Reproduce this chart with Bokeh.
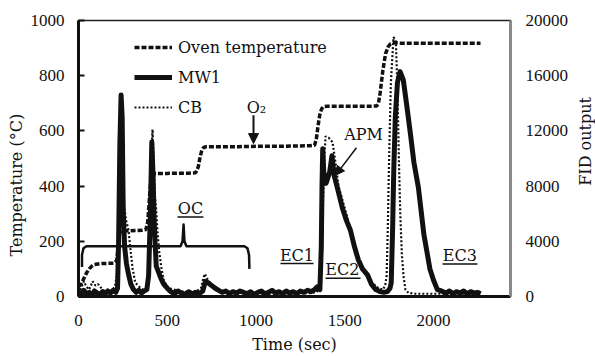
import numpy as np
from bokeh.plotting import figure
from bokeh.layouts import row
from bokeh.models import (Range1d, LinearAxis, FixedTicker, Label, Arrow, NormalHead,
                          Legend, LegendItem, ColumnDataSource, Title)
from bokeh.embed import file_html
from bokeh.resources import INLINE

# ---------------- data ----------------
X_TICKS = [0, 500, 1000, 1500, 2000]
TEMP_TICKS = [0, 200, 400, 600, 800, 1000]
FID_TICKS = [0, 4000, 8000, 12000, 16000, 20000]

# Oven temperature (deg C), left axis
OVEN_T = [0, 15, 30, 45, 60, 75, 90, 120, 160, 200, 215, 222, 228, 235, 245, 280, 320, 360, 380, 390,
          398, 406, 414, 422, 440, 500, 560, 620, 660, 675, 685, 695, 705, 720, 800, 900, 1000, 1100,
          1200, 1300, 1330, 1340, 1350, 1360, 1370, 1380, 1400, 1500, 1600, 1680, 1690, 1700, 1715,
          1730, 1745, 1758, 1775, 1800, 1900, 2000, 2100, 2200, 2265]
OVEN_V = [35, 45, 65, 85, 100, 110, 116, 119, 120, 121, 130, 170, 215, 235, 238, 238, 239, 240, 243, 270,
          340, 410, 440, 446, 446, 446, 447, 447, 448, 470, 505, 530, 540, 543, 543, 543, 544, 544,
          545, 546, 548, 570, 620, 660, 680, 688, 689, 689, 689, 690, 700, 740, 820,
          880, 905, 915, 920, 918, 918, 918, 918, 918, 918]

# MW1 FID output, right axis
MW1_T = [0, 15, 30, 45, 60, 75, 90, 105, 120, 135, 150, 165, 180, 195, 210, 220, 226, 233, 240, 246,
         252, 260, 270, 282, 295, 310, 325, 340, 355, 370, 385, 395, 405, 413, 420, 425, 430, 438, 450,
         465, 480, 500, 520, 540, 560, 580, 600, 620, 640, 660, 680, 700, 715, 730, 750, 770, 790, 810,
         830, 850, 870, 890, 910, 930, 950, 970, 990, 1010, 1030, 1050, 1070, 1090, 1110, 1130, 1150,
         1170, 1190, 1210, 1230, 1250, 1270, 1290, 1310, 1330, 1345, 1360, 1368, 1372, 1376, 1382,
         1395, 1415, 1428, 1440, 1460, 1487, 1510, 1532, 1555, 1577, 1600, 1628, 1650, 1675, 1700,
         1720, 1740, 1755, 1762, 1770, 1776, 1785, 1797, 1812, 1830, 1850, 1870, 1890, 1915, 1946,
         1980, 2000, 2022, 2045, 2070, 2090, 2110, 2130, 2150, 2170, 2190, 2210, 2230, 2250, 2265]
MW1_V = [350, 150, 450, 200, 300, 100, 400, 250, 150, 350, 200, 400, 250, 450, 300, 600, 4000, 11000,
         14600, 13000, 6200, 3600, 2400, 1600, 900, 500, 300, 450, 250, 400, 500, 1500, 6000, 11200,
         8800, 6000, 4300, 2200, 1800, 1300, 900, 600, 350, 200, 400, 250, 150, 350, 200, 300, 200, 400,
         1100, 1000, 800, 600, 450, 300, 400, 200, 350, 250, 400, 300, 200, 350, 150, 300, 400, 200,
         300, 450, 250, 350, 200, 400, 250, 350, 200, 400, 300, 450, 350, 500, 700, 500, 3600, 8000,
         10700, 9000, 8200, 9000, 10200, 8800, 7800, 6400, 5500, 4800, 3600, 2640, 2000, 1570, 900,
         500, 350, 300, 350, 600, 1000, 5000, 9000, 13000, 15500, 16300, 15700, 13800, 11800, 9700,
         7900, 4500, 2000, 1200, 500, 400, 250, 400, 200, 350, 250, 400, 200, 350, 250, 300, 200]

# CB FID output, right axis
CB_T = [0, 15, 30, 45, 60, 80, 95, 110, 135, 160, 185, 205, 218, 228, 237, 245, 255, 268, 282, 292,
        305, 320, 350, 375, 390, 398, 405, 411, 417, 423, 430, 437, 445, 455, 468, 480, 500, 518, 550,
        585, 620, 660, 690, 703, 712, 725, 745, 770, 800, 840, 873, 910, 950, 1000, 1100, 1200, 1300,
        1340, 1360, 1368, 1374, 1378, 1385, 1392, 1410, 1431, 1450, 1465, 1487, 1515, 1543, 1572,
        1600, 1645, 1690, 1715, 1728, 1736, 1742, 1750, 1760, 1775, 1788, 1797, 1805, 1813, 1822,
        1832, 1842, 1860, 1900, 2000, 2100, 2200, 2265]
CB_V = [200, 600, 1100, 700, 500, 1100, 800, 900, 500, 300, 400, 700, 1700, 4000, 7400, 8200, 6800,
        5500, 4800, 3500, 2000, 1000, 600, 400, 800, 3000, 7000, 10500, 12100, 10000, 7400, 6400, 4700,
        3200, 2000, 1200, 700, 570, 450, 360, 300, 350, 600, 1300, 1640, 1300, 900, 600, 400, 300, 350,
        250, 300, 200, 200, 250, 250, 300, 600, 1700, 4000, 7000, 10000, 11600, 11500, 11200, 9500,
        8000, 7000, 5700, 4100, 3100, 2100, 1100, 600, 500, 800, 1500, 4500, 10000, 15500, 18800,
        18500, 15000, 10000, 6000, 3000, 1400, 500, 250, 200, 200, 200, 200, 200]

SERIES_NAMES = ["Oven temperature", "MW1", "CB"]

# ---------------- annotations ----------------
BRACE_X = [19.7, 19.7, 28, 45, 575, 586, 592, 597, 608, 935, 952, 961, 963]
BRACE_Y = [107, 150, 175, 182, 182, 200, 261, 200, 182, 182, 175, 150, 100]

TEXT_LABELS = [  # text, x (sec), y (deg C)
    ("OC", 631, 319),
    ("EC1", 1231, 150),
    ("EC2", 1487, 97),
    ("EC3", 2149, 147),
    ("O\u2082", 1003, 684),
    ("APM", 1606, 587),
]
UNDERLINES = dict(x0=[558, 1138, 1392, 2051], x1=[704, 1324, 1589, 2248],
                  y=[288, 120, 66, 118])

FONT = "DejaVu Serif"
NUMFONT = "Liberation Serif"
INK = "#111111"

p = figure(width=575, height=356, output_backend="svg", toolbar_location=None,
           x_range=Range1d(0, 2434), y_range=Range1d(0, 1000),
           min_border_left=78, min_border_right=65, min_border_top=20, min_border_bottom=56)
p.extra_y_ranges = {"fid": Range1d(0, 20000)}
p.xgrid.visible = False
p.ygrid.visible = False
p.outline_line_color = "#222222"
p.outline_line_width = 1.5
p.background_fill_color = "white"
p.border_fill_color = "white"

# x axis
xa = p.xaxis[0]
xa.ticker = FixedTicker(ticks=X_TICKS)
xa.major_tick_line_color = None
xa.minor_tick_line_color = None
xa.axis_line_width = 3
xa.axis_line_color = INK
xa.major_label_text_font = NUMFONT
xa.major_label_text_font_size = "17px"
xa.major_label_text_color = INK
xa.major_label_standoff = 12
xa.axis_label = "Time (sec)"
xa.axis_label_text_font = FONT
xa.axis_label_text_font_size = "16px"
xa.axis_label_text_font_style = "normal"
xa.axis_label_text_color = INK
xa.axis_label_standoff = 6

# left axis
ya = p.yaxis[0]
ya.ticker = FixedTicker(ticks=TEMP_TICKS)
ya.major_tick_in = 6
ya.major_tick_out = 0
ya.major_tick_line_width = 2
ya.major_tick_line_color = INK
ya.minor_tick_line_color = None
ya.axis_line_width = 3
ya.axis_line_color = INK
ya.major_label_text_font = NUMFONT
ya.major_label_text_font_size = "17px"
ya.major_label_text_color = INK
ya.major_label_standoff = 14

# right axis
ra = LinearAxis(y_range_name="fid", ticker=FixedTicker(ticks=FID_TICKS))
ra.major_tick_line_color = None
ra.minor_tick_line_color = None
ra.axis_line_color = "#8a8a8a"
ra.axis_line_width = 3
ra.major_label_text_font = NUMFONT
ra.major_label_text_font_size = "17px"
ra.major_label_text_color = INK
ra.major_label_standoff = 9
p.add_layout(ra, "right")

# left axis title (placed as a side title so it can be offset along the axis)
p.add_layout(Title(text="Temperature (\u00b0C)", align="left", offset=40,
                   text_font=FONT, text_font_size="16px", text_font_style="normal",
                   text_color=INK, standoff=4), "left")

# series
r_oven = p.line(OVEN_T, OVEN_V, line_width=3.5, line_dash="5 2", color=INK)
r_mw1 = p.line(MW1_T, MW1_V, y_range_name="fid", line_width=5, color=INK, line_join="round")
r_cb = p.line(CB_T, CB_V, y_range_name="fid", line_width=2.2, line_dash="2 2", color=INK)

legend = Legend(items=[LegendItem(label=SERIES_NAMES[0], renderers=[r_oven]),
                       LegendItem(label=SERIES_NAMES[1], renderers=[r_mw1]),
                       LegendItem(label=SERIES_NAMES[2], renderers=[r_cb])],
                location=(56, 179), glyph_width=38, glyph_height=20, label_height=20,
                spacing=10, label_standoff=6, padding=0, margin=0,
                border_line_color=None, background_fill_alpha=0,
                label_text_font=FONT, label_text_font_size="16px", label_text_color=INK)
p.add_layout(legend)

# brace for OC
p.line(BRACE_X, BRACE_Y, line_width=2.5, color=INK, line_join="round")

# text labels
for txt, x, y in TEXT_LABELS:
    p.add_layout(Label(x=x, y=y, text=txt, text_font=FONT, text_font_size="16px",
                       text_color=INK, text_align="center", text_baseline="alphabetic"))
p.segment(x0="x0", y0="y", x1="x1", y1="y", source=ColumnDataSource(UNDERLINES),
          line_width=1.5, color=INK)

# arrows
p.add_layout(Arrow(end=NormalHead(size=10, fill_color=INK, line_color=INK),
                   x_start=986, y_start=657, x_end=986, y_end=554,
                   line_width=2, line_color=INK))
p.add_layout(Arrow(end=NormalHead(size=9, fill_color=INK, line_color=INK),
                   x_start=1566, y_start=539, x_end=1448, y_end=439,
                   line_width=1.5, line_color=INK))

# narrow side panel carrying the right-axis title, reading bottom-to-top
side = figure(width=20, height=356, output_backend="svg", toolbar_location=None,
              x_range=Range1d(0, 1), y_range=Range1d(0, 1),
              x_axis_location=None, y_axis_location=None,
              min_border_left=0, min_border_right=0, min_border_top=0, min_border_bottom=0)
side.xgrid.visible = False
side.ygrid.visible = False
side.outline_line_color = None
side.background_fill_color = "white"
side.border_fill_color = "white"
side.add_layout(Label(x=0.5, y=0.562, text="FID output", angle=np.pi / 2,
                      text_font=FONT, text_font_size="16px", text_color=INK,
                      text_align="center", text_baseline="middle"))

layout = row(p, side, spacing=0)
open("out.html", "w").write(file_html(layout, INLINE))
